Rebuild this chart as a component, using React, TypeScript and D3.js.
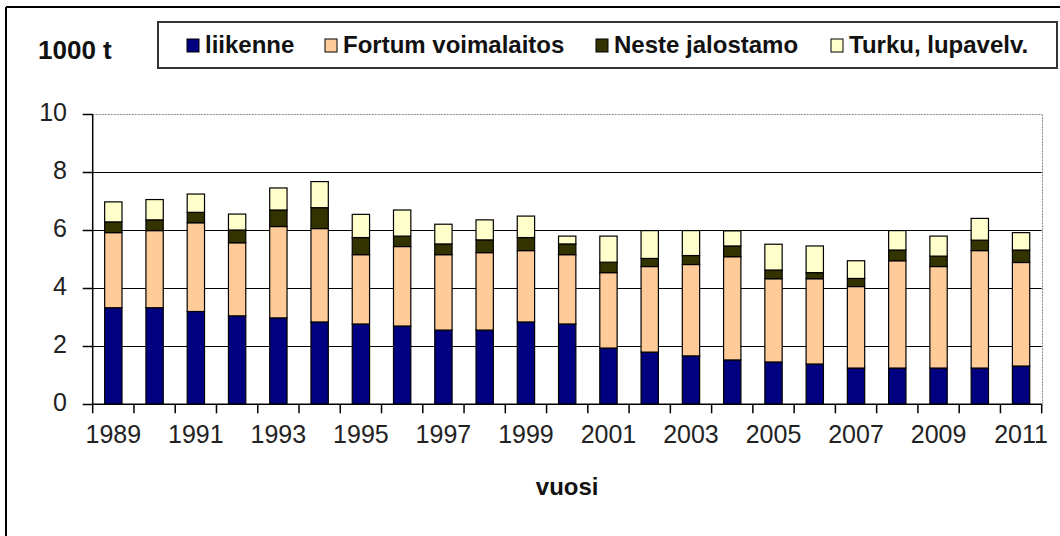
import React from "react";
import * as d3 from "d3";

const years = [
  "1989", "1990", "1991", "1992", "1993", "1994", "1995", "1996", "1997", "1998", "1999", "2000",
  "2001", "2002", "2003", "2004", "2005", "2006", "2007", "2008", "2009", "2010", "2011",
];
const liikenne = [3.33, 3.33, 3.2, 3.05, 2.98, 2.84, 2.77, 2.7, 2.56, 2.56, 2.84, 2.77, 1.94, 1.8, 1.67, 1.53, 1.46, 1.39, 1.25, 1.25, 1.25, 1.25, 1.32];
const fortum = [2.59, 2.66, 3.06, 2.52, 3.15, 3.22, 2.39, 2.74, 2.6, 2.67, 2.46, 2.39, 2.6, 2.95, 3.15, 3.56, 2.87, 2.94, 2.81, 3.7, 3.5, 4.05, 3.57];
const neste = [0.37, 0.37, 0.36, 0.44, 0.57, 0.72, 0.59, 0.36, 0.37, 0.44, 0.45, 0.37, 0.36, 0.28, 0.31, 0.37, 0.3, 0.21, 0.28, 0.37, 0.36, 0.36, 0.43];
const turku = [0.69, 0.7, 0.63, 0.55, 0.76, 0.9, 0.8, 0.9, 0.68, 0.69, 0.74, 0.27, 0.9, 0.96, 0.86, 0.52, 0.89, 0.92, 0.61, 0.67, 0.69, 0.75, 0.6];

const seriesNames = ["liikenne", "Fortum voimalaitos", "Neste jalostamo", "Turku, lupavelv."];
const seriesColors = ["#000080", "#FFCC99", "#333300", "#FFFFCC"];
const yTicks = [0, 2, 4, 6, 8, 10];
const xLabelYears = ["1989", "1991", "1993", "1995", "1997", "1999", "2001", "2003", "2005", "2007", "2009", "2011"];
const yUnit = "1000 t";
const xTitle = "vuosi";

const W = 1060;
const H = 536;
const plot = { left: 92.7, right: 1041.7, top: 114.3, bottom: 404.3 };
const legendBox = { x: 158, y: 22, w: 899, h: 46 };
const legendX = [187, 325, 596, 831];
const FONT = "'Liberation Sans', Arial, sans-serif";

export default function App() {
  const x = d3.scaleBand<string>().domain(years).range([plot.left, plot.right]).padding(0);
  const y = d3.scaleLinear().domain([0, 10]).range([plot.bottom, plot.top]);
  const step = x.step();
  const barW = step * 0.42;

  const table = years.map((yr, i) => ({
    year: yr,
    s0: liikenne[i],
    s1: fortum[i],
    s2: neste[i],
    s3: turku[i],
  }));
  const stack = d3.stack<any>().keys(["s0", "s1", "s2", "s3"]);
  const layers = stack(table);

  return (
    <svg width={W} height={H} style={{ position: "absolute", left: 0, top: 0, background: "#fff" }} fontFamily={FONT}>
      <rect x={0} y={0} width={W} height={H} fill="#fff" />
      {/* outer frame */}
      <line x1={6} y1={7} x2={W} y2={7} stroke="#000" strokeWidth={2} />
      <line x1={6} y1={7} x2={6} y2={H} stroke="#000" strokeWidth={2} />

      {/* legend */}
      <rect x={legendBox.x} y={legendBox.y} width={legendBox.w} height={legendBox.h} fill="#fff" stroke="#333" strokeWidth={2} />
      {seriesNames.map((name, i) => (
        <g key={name}>
          <rect x={legendX[i]} y={39} width={12} height={13} fill={seriesColors[i]} stroke="#000" strokeWidth={1} />
          <text x={legendX[i] + 18} y={53} fontSize={24} fontWeight="bold" fill="#111">
            {name}
          </text>
        </g>
      ))}

      {/* unit */}
      <text x={38} y={59} fontSize={26} fontWeight="bold" fill="#111">
        {yUnit}
      </text>

      {/* gridlines */}
      {yTicks.filter((t) => t > 0 && t < 10).map((t) => (
        <line key={t} x1={plot.left} x2={plot.right} y1={Math.round(y(t)) + 0.5} y2={Math.round(y(t)) + 0.5} stroke="#000" strokeWidth={1} />
      ))}
      <line x1={plot.left} x2={plot.right} y1={Math.round(y(10)) + 0.5} y2={Math.round(y(10)) + 0.5} stroke="#888" strokeWidth={1} strokeDasharray="2,1" />
      <line x1={Math.round(plot.right) + 0.5} x2={Math.round(plot.right) + 0.5} y1={y(10)} y2={y(0)} stroke="#888" strokeWidth={1} strokeDasharray="2,1" />

      {/* bars */}
      {layers.map((layer, li) => (
        <g key={li}>
          {layer.map((d, i) => {
            const cx = (x(years[i]) as number) + step / 2;
            return (
              <rect
                key={i}
                x={cx - barW / 2}
                y={y(d[1])}
                width={barW}
                height={y(d[0]) - y(d[1])}
                fill={seriesColors[li]}
                stroke="#000"
                strokeWidth={1.2}
              />
            );
          })}
        </g>
      ))}

      {/* y axis */}
      <line x1={plot.left} x2={plot.left} y1={y(10)} y2={y(0)} stroke="#000" strokeWidth={1.5} />
      {yTicks.map((t) => (
        <g key={t}>
          <line x1={plot.left - 10} x2={plot.left} y1={Math.round(y(t)) + 0.5} y2={Math.round(y(t)) + 0.5} stroke="#000" strokeWidth={1.5} />
          <text x={67} y={y(t)} dy="0.28em" textAnchor="end" fontSize={25} fill="#222">
            {t}
          </text>
        </g>
      ))}

      {/* x axis */}
      <line x1={plot.left} x2={plot.right} y1={plot.bottom} y2={plot.bottom} stroke="#000" strokeWidth={1.5} />
      {years.concat(["end"]).map((yr, i) => {
        const xx = plot.left + i * step;
        return <line key={yr} x1={xx} x2={xx} y1={plot.bottom} y2={plot.bottom + 9} stroke="#000" strokeWidth={1.5} />;
      })}
      {xLabelYears.map((yr) => (
        <text key={yr} x={(x(yr) as number) + step / 2} y={443} textAnchor="middle" fontSize={25} fill="#222">
          {yr}
        </text>
      ))}

      {/* x title */}
      <text x={(plot.left + plot.right) / 2} y={495} textAnchor="middle" fontSize={24} fontWeight="bold" fill="#111">
        {xTitle}
      </text>
    </svg>
  );
}
